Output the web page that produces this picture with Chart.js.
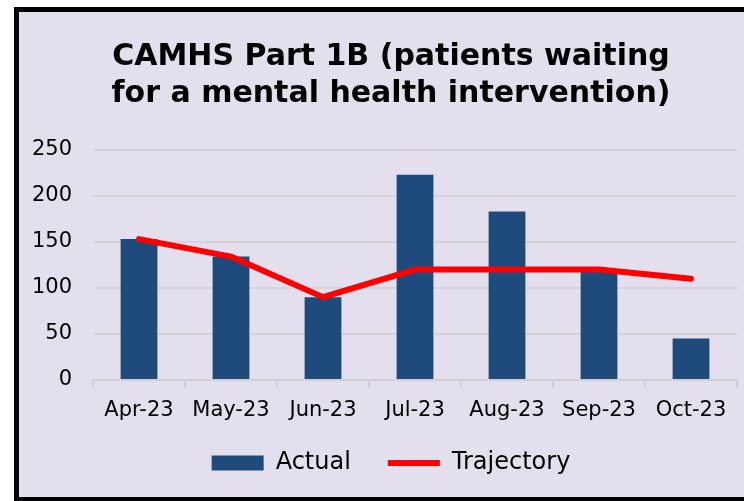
<!DOCTYPE html>
<html>
<head>
<meta charset="utf-8">
<script src="https://cdn.jsdelivr.net/npm/chart.js@4"></script>
<style>
  html, body { margin: 0; padding: 0; background: #ffffff; overflow: hidden; width: 744px; height: 501px; }
  #frame { position: absolute; left: 14px; top: 7px; width: 725px; height: 485px;
           border-left: 5px solid #000; border-top: 5px solid #000; border-bottom: 4px solid #000; border-right: none;
           background: #E4DFEC; }
  #c { position: absolute; left: 0; top: 0; }
</style>
</head>
<body>
<div id="frame"><canvas id="c" width="725" height="485"></canvas></div>
<script>
const categories = ["Apr-23", "May-23", "Jun-23", "Jul-23", "Aug-23", "Sep-23", "Oct-23"];
const actual = [153, 134, 90, 223, 183, 118, 45];
const trajectory = [153, 134, 90, 120, 120, 120, 110];
const titleLines = ["CAMHS Part 1B (patients waiting", "for a mental health intervention)"];
const yMin = 0, yMax = 250, yStep = 50;

const FONT = "'DejaVu Sans', sans-serif";
const noLabelClip = () => undefined;

new Chart(document.getElementById('c'), {
  data: {
    labels: categories,
    datasets: [
      {
        type: 'bar',
        label: 'Actual',
        data: actual,
        backgroundColor: '#1F4A7C',
        borderWidth: 0,
        categoryPercentage: 0.8,
        barPercentage: 0.5,
        order: 1,
        pointStyle: 'rect'
      },
      {
        type: 'line',
        label: 'Trajectory',
        data: trajectory,
        borderColor: '#FF0000',
        backgroundColor: '#FF0000',
        borderWidth: 6,
        borderCapStyle: 'round',
        borderJoinStyle: 'round',
        pointRadius: 0,
        pointHoverRadius: 0,
        tension: 0,
        order: 0,
        pointStyle: 'line'
      }
    ]
  },
  options: {
    responsive: false,
    animation: false,
    layout: { padding: { left: 26, right: 7, top: 0, bottom: 12 } },
    plugins: {
      tooltip: { enabled: false },
      title: {
        display: true,
        text: titleLines,
        color: '#000',
        font: { family: FONT, size: 30, weight: 'bold', lineHeight: 1.23 },
        padding: { top: 27, bottom: 37 }
      },
      legend: {
        display: true,
        position: 'bottom',
        labels: {
          color: '#000',
          font: { family: FONT, size: 24 },
          usePointStyle: true,
          pointStyleWidth: 52,
          boxHeight: 15,
          padding: 37,
          sort: (a, b) => a.datasetIndex - b.datasetIndex
        }
      }
    },
    scales: {
      x: {
        grid: {
          display: true,
          drawOnChartArea: false,
          drawTicks: true,
          tickLength: 8,
          offset: true,
          color: '#D2CED6',
          lineWidth: 2
        },
        border: { display: true, color: '#D2CED6', width: 2 },
        ticks: { color: '#000', font: { family: FONT, size: 21 }, padding: 10, maxRotation: 0 },
        afterFit: (scale) => { scale.height = 34; scale._computeLabelArea = noLabelClip; }
      },
      y: {
        min: yMin,
        max: yMax,
        ticks: { stepSize: yStep, color: '#000', font: { family: FONT, size: 21 }, padding: 21 },
        grid: { color: '#D6D2DA', lineWidth: 2, drawTicks: false },
        border: { display: false },
        afterFit: (scale) => { scale.width = 48; scale._computeLabelArea = noLabelClip; }
      }
    }
  }
});
</script>
</body>
</html>
